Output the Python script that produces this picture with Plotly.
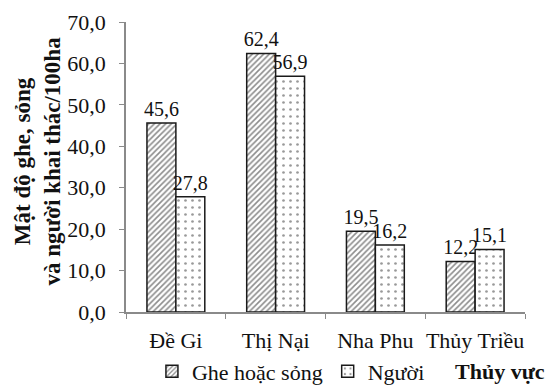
import plotly.graph_objects as go

categories = ["Đề Gi", "Thị Nại", "Nha Phu", "Thủy Triều"]
ghe_values = [45.6, 62.4, 19.5, 12.2]
nguoi_values = [27.8, 56.9, 16.2, 15.1]
series_names = ["Ghe hoặc sỏng", "Người"]
y_ticks = [0, 10, 20, 30, 40, 50, 60, 70]
y_title = "Mật độ ghe, sỏng<br>và người khai thác/100ha"
x_title = "Thủy vực"

FONT = "Liberation Serif, Times New Roman, serif"
AXIS_GRAY = "#8a8a8a"

fig = go.Figure()
fig.add_trace(go.Bar(
    x=categories, y=ghe_values, name=series_names[0],
    marker=dict(color="white", line=dict(color="#1a1a1a", width=1.5),
                pattern=dict(shape="/", fgcolor="#1a1a1a", bgcolor="white", size=4, solidity=0.4)),
    text=ghe_values, texttemplate="%{y:.1f}", textposition="outside",
    constraintext="none", cliponaxis=False,
    textfont=dict(family=FONT, size=20, color="#111111"),
))
fig.add_trace(go.Bar(
    x=categories, y=nguoi_values, name=series_names[1],
    marker=dict(color="white", line=dict(color="#1a1a1a", width=1.5),
                pattern=dict(shape=".", fgcolor="#333333", bgcolor="white", size=7, solidity=0.12)),
    text=nguoi_values, texttemplate="%{y:.1f}", textposition="outside",
    constraintext="none", cliponaxis=False,
    textfont=dict(family=FONT, size=20, color="#111111"),
))

fig.update_layout(
    width=552, height=391,
    margin=dict(l=126, r=27, t=22, b=79, autoexpand=False),
    paper_bgcolor="white", plot_bgcolor="white",
    separators=",.",
    barmode="group", bargap=0.42, bargroupgap=0,
    font=dict(family=FONT, size=20, color="#111111"),
    showlegend=True,
    legend=dict(orientation="h", x=0.065, xanchor="left", y=-0.205, yanchor="middle",
                font=dict(family=FONT, size=22, color="#111111"),
                itemwidth=30, tracegroupgap=0, bgcolor="rgba(0,0,0,0)"),
    xaxis=dict(showline=True, linecolor=AXIS_GRAY, linewidth=1.5,
               ticks="outside", tickson="boundaries", tickcolor=AXIS_GRAY, ticklen=5,
               tickangle=0, ticklabelstandoff=8,
               tickfont=dict(family=FONT, size=22, color="#111111"),
               showgrid=False, zeroline=False),
    yaxis=dict(range=[0, 70], tickvals=y_ticks, tickformat=".1f",
               showline=True, linecolor=AXIS_GRAY, linewidth=1.5,
               ticks="outside", tickcolor=AXIS_GRAY, ticklen=5,
               ticklabelstandoff=9,
               tickfont=dict(family=FONT, size=22, color="#111111"),
               showgrid=False, zeroline=False),
    annotations=[
        dict(text="<b>" + y_title + "</b>", xref="paper", yref="paper",
             x=-0.222, y=0.52, xanchor="center", yanchor="middle", textangle=-90,
             showarrow=False, font=dict(family=FONT, size=23, color="#111111")),
        dict(text="<b>" + x_title + "</b>", xref="paper", yref="paper",
             x=0.82, y=-0.205, xanchor="left", yanchor="middle",
             showarrow=False, font=dict(family=FONT, size=22, color="#111111")),
    ],
)

fig.write_html("out.html", config=dict(displayModeBar=False),
               post_script="document.body.style.margin='0px';")
